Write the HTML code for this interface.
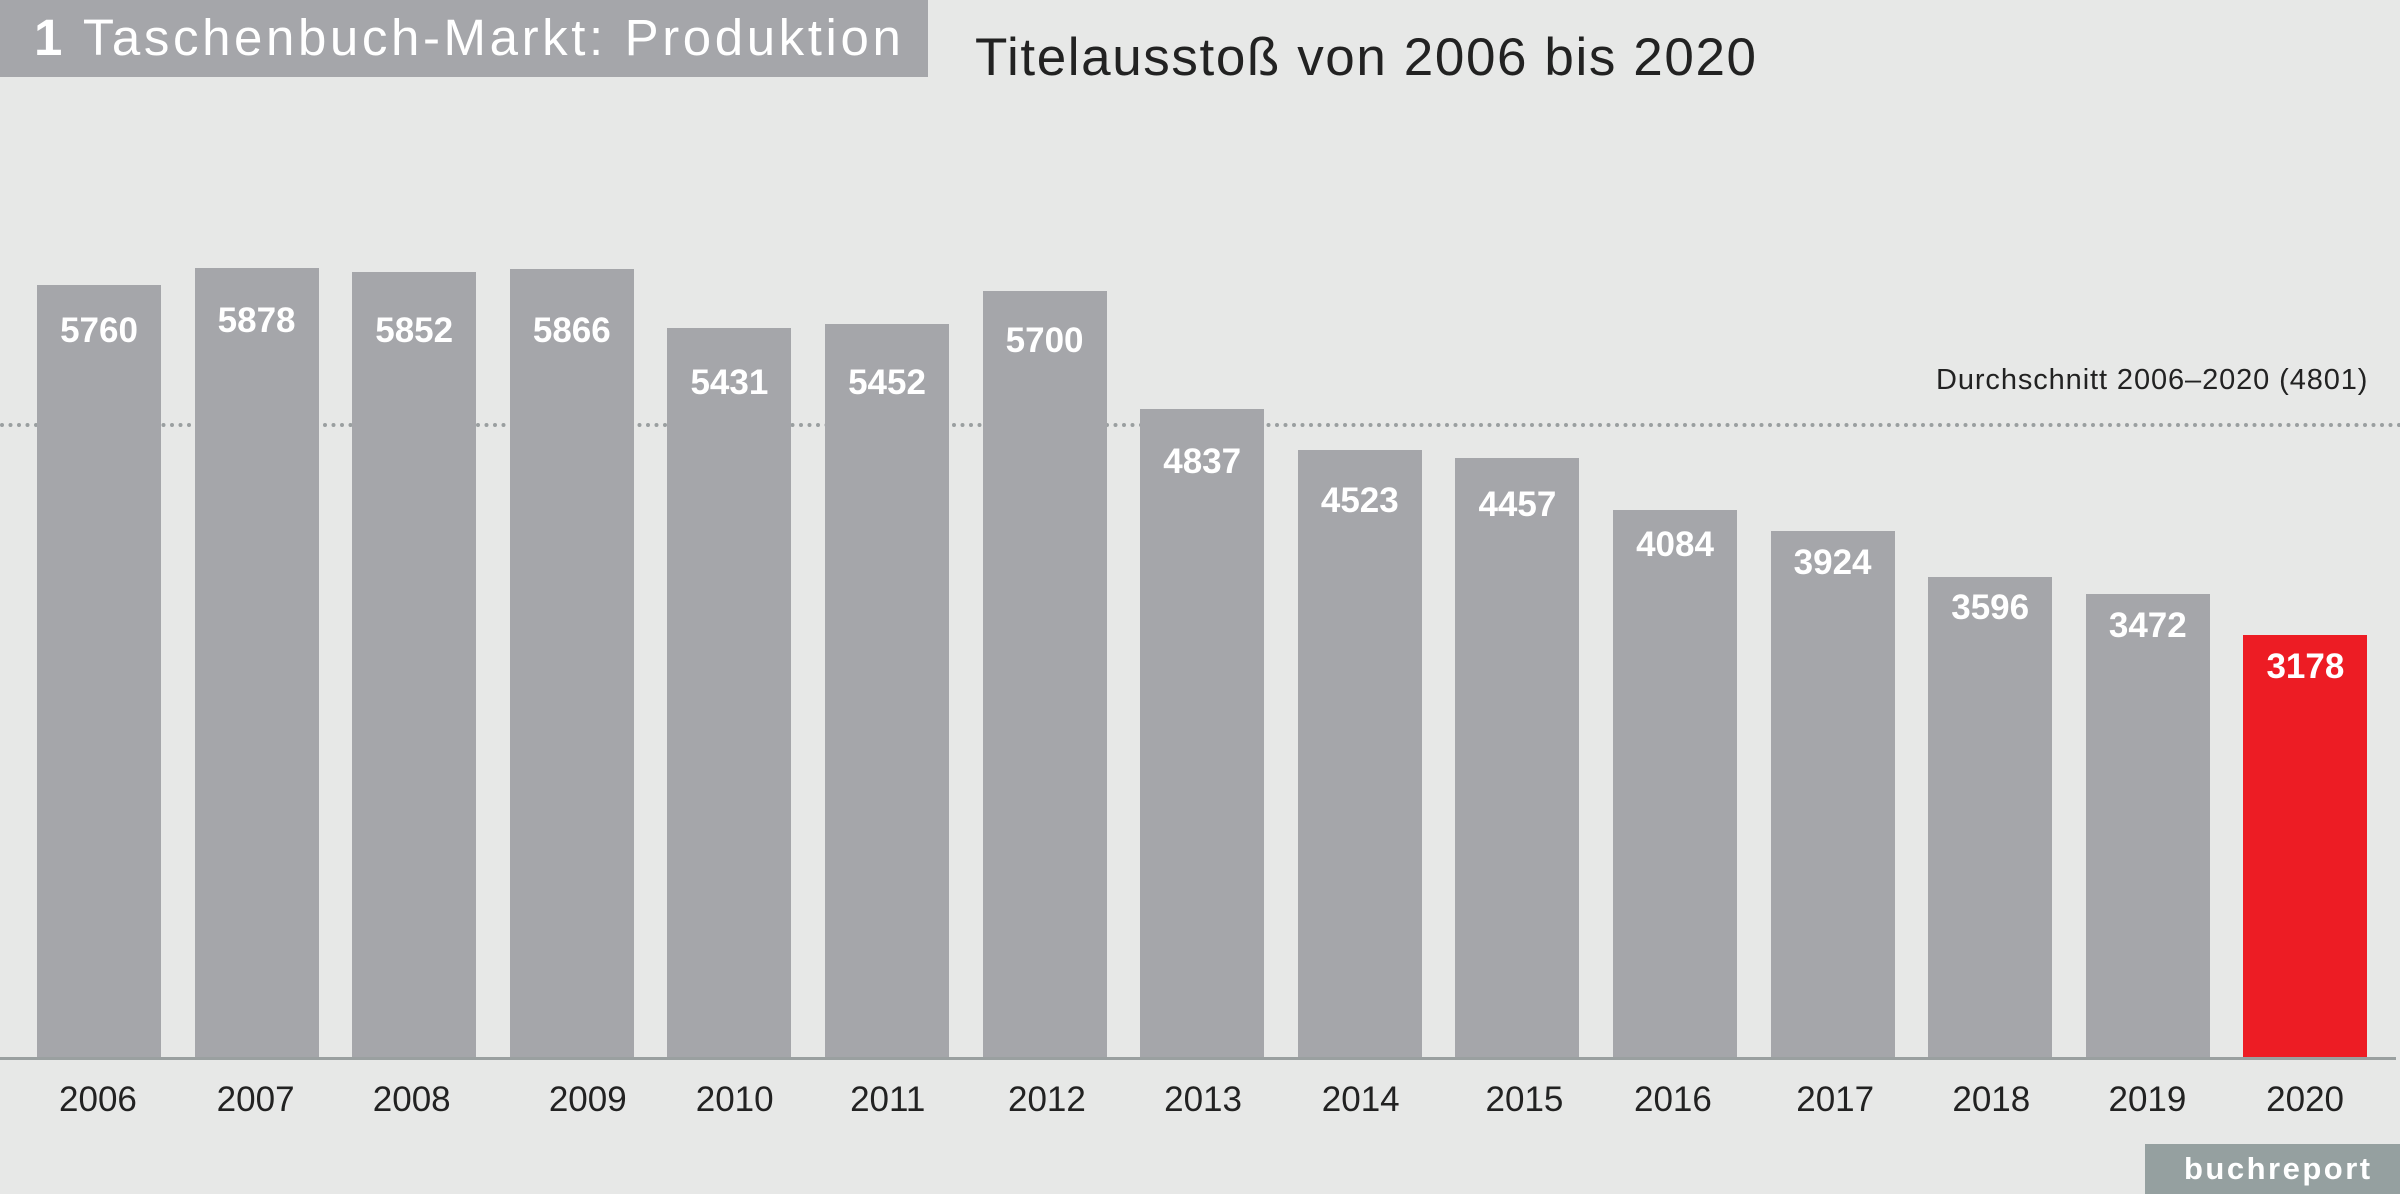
<!DOCTYPE html>
<html><head><meta charset="utf-8"><style>
body{margin:0;width:2400px;height:1194px;background:#e7e8e7;position:relative;overflow:hidden;font-family:"Liberation Sans",sans-serif}
.a{position:absolute}
.bar{position:absolute;background:#a5a6aa;width:124px;bottom:136px}
.v{position:absolute;color:#fff;font-weight:bold;font-size:35px;width:160px;text-align:center;line-height:40px}
.y{position:absolute;color:#222;font-size:35px;width:120px;text-align:center;top:1080px;line-height:40px}
</style></head><body>
<div class="a" style="left:0;top:0;width:928px;height:77px;background:#a5a6aa"></div>
<div class="a" style="left:34px;top:8px;color:#fff;font-size:51px;letter-spacing:3.6px;line-height:60px;white-space:nowrap"><b>1</b> Taschenbuch-Markt: Produktion</div>
<div class="a" style="left:975px;top:26px;color:#222;font-size:53px;letter-spacing:1.6px;line-height:64px;white-space:nowrap">Titelausstoß von 2006 bis 2020</div>
<div class="a" style="left:1936px;top:360px;color:#222;font-size:29px;letter-spacing:0.9px;line-height:40px;white-space:nowrap">Durchschnitt 2006–2020 (4801)</div>
<svg class="a" style="left:0;top:0" width="2400" height="1194">
<line x1="2" y1="425" x2="2400" y2="425" stroke="#9a9fa0" stroke-width="4" stroke-linecap="round" stroke-dasharray="0 8.5"/>
</svg>
<div id="c"></div>
<div class="a" style="left:0;top:1057px;width:2396px;height:3px;background:#9aa0a0"></div>
<div class="a" style="left:2145px;top:1144px;width:255px;height:50px;background:#95a0a0"></div>
<div class="a" style="left:2184px;top:1147px;color:#fff;font-size:31px;font-weight:bold;letter-spacing:2.5px;line-height:44px;white-space:nowrap">buchreport</div>
<script>
var vals=[5760,5878,5852,5866,5431,5452,5700,4837,4523,4457,4084,3924,3596,3472,3178];
var tops=[285,268,272,269,328,324,291,409,450,458,510,531,577,594,635];
var lc=[216,210,216,216,250,250,223,302,327,330,356,368,397,409,436];
var yc=[64,167,269,384,480,580,684,786,889,996,1093,1199,1301,1403,1506];
var h='';
for(var i=0;i<15;i++){var x=37+i*157.6;
h+='<div class="bar" style="left:'+x+'px;top:'+tops[i]+'px;'+(i==14?'background:#ed1c24':'')+'"></div>';
h+='<div class="v" style="left:'+(x-18)+'px;top:'+(lc[i]*1.5306-20)+'px">'+vals[i]+'</div>';
h+='<div class="y" style="left:'+(yc[i]*1.5306-60)+'px">'+(2006+i)+'</div>';}
document.getElementById('c').innerHTML=h;
</script>
</body></html>
